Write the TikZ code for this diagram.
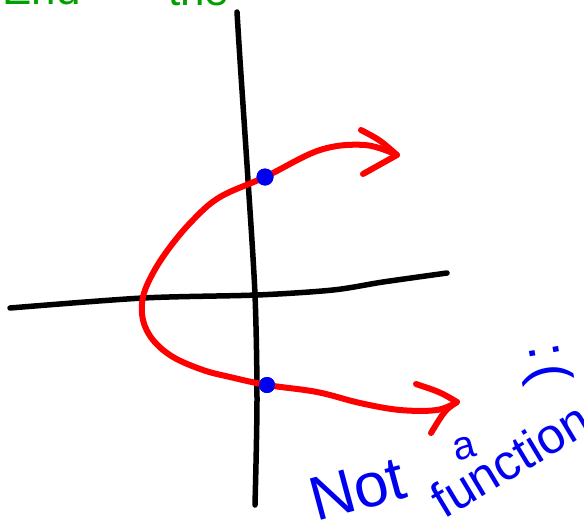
\documentclass[tikz,border=0pt]{standalone}
\usepackage{fontspec}
\setmainfont{Liberation Sans}
\usetikzlibrary{positioning}
\definecolor{inkred}{RGB}{255,0,0}
\definecolor{inkblue}{RGB}{0,0,240}
\definecolor{inkgreen}{RGB}{0,160,0}
\begin{document}
\begin{tikzpicture}[
  x=1pt, y=-1pt,
  axis/.style={line width=5.5pt, line cap=round, line join=round, black},
  curve/.style={line width=6pt, line cap=round, line join=round, inkred},
  dot/.style={circle, fill=inkblue, inner sep=0pt, minimum size=17pt},
  note/.style={inkblue, inner sep=0pt},
  title/.style={inkgreen, inner sep=0pt, font=\fontsize{44}{44}\selectfont}
]
\useasboundingbox (0,0) rectangle (584,528);

% green heading, cut off by the page edge
\node[title, anchor=base west] (head) at (2,4) {End};
\node[title, anchor=base west] (headb) at (168,5) {the};

% axes
\coordinate (ytop) at (237,12);
\coordinate (ybot) at (255,505);
\coordinate (xleft) at (10,308);
\coordinate (xright) at (447,273);
\draw[axis] plot[smooth] coordinates {(ytop) (240,60) (248,180) (255,295) (257,400) (ybot)};
\draw[axis] plot[smooth] coordinates {(xleft) (143,298) (257,295) (333,290) (383,282) (xright)};

% the curve and its two points on the y-axis
\node[dot] (up) at (265,177) {};
\node[dot, minimum size=16pt] (down) at (267,385) {};
\coordinate (tipU) at (397,155);
\coordinate (tipD) at (457,402);
\draw[curve] plot[smooth, tension=0.6] coordinates {(tipU) (365,145) (320,150) (up.center)
  (220,197) (193,220) (170,247) (153,273) (143,297) (143,320) (153,340) (173,357)
  (203,370) (230,377) (down.center) (317,392) (360,403) (400,410) (437,410) (tipD)};
\node[dot] at (up) {};
\node[dot, minimum size=16pt] at (down) {};

% hand-drawn arrow heads
\coordinate (hU1) at (361,130);
\coordinate (hU2) at (363,174);
\coordinate (hD1) at (416,384);
\coordinate (hD2) at (431,433);
\draw[curve] (hU1) .. controls (380,140) .. (tipU) -- (hU2);
\draw[curve] (hD1) .. controls (440,392) .. (tipD) .. controls (445,410) .. (hD2);

% comment
\node[note, anchor=base west, rotate=15, font=\fontsize{62}{62}\selectfont] (nota) at (316,522) {Not};
\node[note, anchor=base west, rotate=15, font=\fontsize{40}{40}\selectfont] (art) at (456,462) {a};
\node[note, anchor=base west, rotate=31, font=\fontsize{50}{50}\selectfont] (func) at (444,520) {function};
\node[note, rotate=-80, font=\fontsize{56}{56}\selectfont] (face) at (546,364) {:\kern6pt(};
\end{tikzpicture}
\end{document}
